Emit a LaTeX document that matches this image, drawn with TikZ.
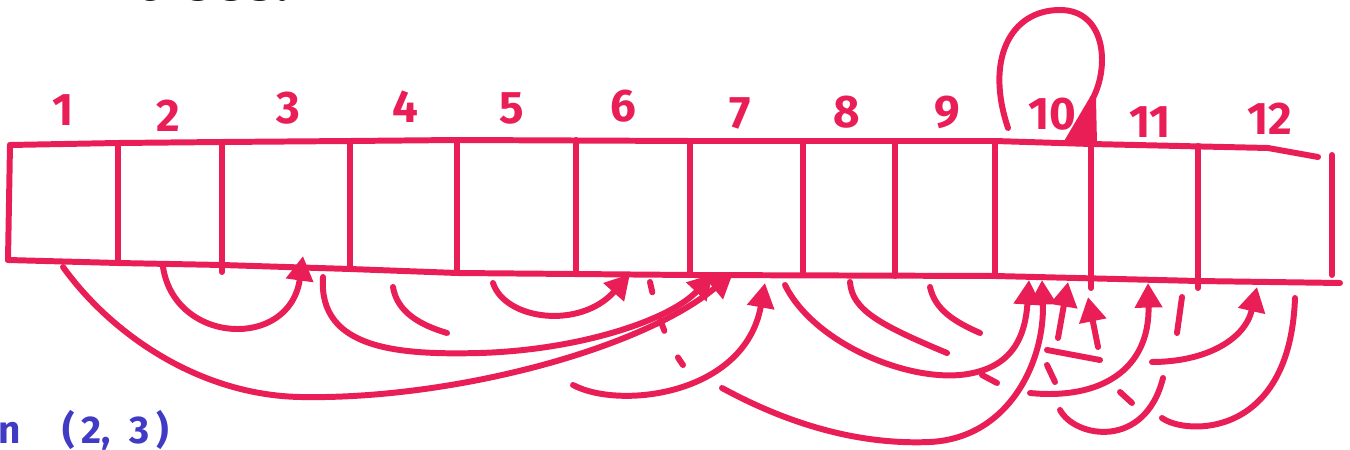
\documentclass[tikz,border=0pt]{standalone}
\usepackage{fontspec}
\setmainfont{Fira Sans}
\usetikzlibrary{arrows.meta}
\definecolor{inkred}{RGB}{234,30,86}
\definecolor{inkblue}{RGB}{64,58,196}
\definecolor{inkblack}{RGB}{22,26,36}

\begin{document}
\begin{tikzpicture}[x=0.02cm,y=0.02cm,
  pen/.style={draw=inkred,line width=3.4pt,line cap=round,line join=round},
  ptr/.style={pen,-{Triangle[length=14pt,width=15pt]}},
  gapline/.style={pen,dash pattern=on 6pt off 17pt},
  num/.style={text=inkred,inner sep=0pt,font=\fontsize{26}{26}\selectfont\bfseries}]
\useasboundingbox (0,0) rectangle (1350,450);
\clip (0,0) rectangle (1350,450);

\node[text=inkblack,anchor=base west,inner sep=0pt,font=\fontsize{34}{34}\selectfont\bfseries] (title) at (135,449) {trees.};
\node[text=inkblue,anchor=base west,inner sep=0pt,font=\fontsize{22}{22}\selectfont\bfseries] (call) at (-2,7) {n\hspace{24pt}(\hspace{3.5pt}2,\hspace{10.5pt}3\hspace{4pt})};

% the array of parents
\draw[pen] (10,305) -- (118,307) -- (222,308) -- (350,309) -- (457,310) -- (690,309) -- (995,309) -- (1091,306) -- (1268,302) -- (1318,293);
\draw[pen] (8,190) -- (118,187) -- (222,185) -- (350,181) -- (457,177) -- (690,175) -- (995,174) -- (1198,169) -- (1340,167);
\draw[pen] (10,305) -- (8,190);
\draw[pen] (1332,295) -- (1332,175);
\foreach \x/\yt/\yb in {118/307/188,222/308/178,350/309/183,457/310/177,576/310/176,690/309/175,803/309/175,895/309/174,995/309/174,1091/306/162,1198/304/162}
  \draw[pen] (\x,\yt) -- (\x,\yb);

\node[num] (n1) at (63,340) {1};
\node[num] (n2) at (168,334) {2};
\node[num] (n3) at (288,342) {3};
\node[num] (n4) at (405,343) {4};
\node[num] (n5) at (512,342) {5};
\node[num] (n6) at (623,344) {6};
\node[num] (n7) at (740,337) {7};
\node[num] (n8) at (847,338) {8};
\node[num] (n9) at (947,338) {9};
\node[num] (n10) at (1052,336) {10};
\node[num] (n11) at (1150,328) {11};
\node[num] (n12) at (1270,331) {12};

\coordinate (from1) at (63,183);
\coordinate (from2) at (163,183);
\coordinate (from3) at (323,173);
\coordinate (from4) at (393,163);
\coordinate (end4) at (447,117);
\coordinate (from5) at (493,167);
\coordinate (from6) at (573,65);
\coordinate (from7) at (785,165);
\coordinate (from8) at (850,168);
\coordinate (end8) at (947,97);
\coordinate (from9) at (930,163);
\coordinate (end9) at (980,117);
\coordinate (fromA) at (722,62);
\coordinate (fromB) at (1058,112);
\coordinate (fromC) at (1098,103);
\coordinate (fromD) at (1030,57);
\coordinate (fromE) at (1152,88);
\coordinate (to3) at (303,194);
\coordinate (to6) at (630,176);
\coordinate (to7a) at (713,176);
\coordinate (to7b) at (733,177);
\coordinate (to7c) at (765,167);
\coordinate (to10a) at (1029,170);
\coordinate (to10b) at (1042,170);
\coordinate (to10c) at (1068,168);
\coordinate (to10d) at (1088,153);
\coordinate (to11) at (1148,167);
\coordinate (to12) at (1257,163);
\coordinate (loop10) at (1008,322);
\coordinate (top10) at (1093,352);

\draw[ptr] (from1) .. controls (112,115) and (200,55) .. (300,53) .. controls (450,50) and (640,100) .. (to7b);
\draw[ptr] (from2) .. controls (175,105) and (290,100) .. (to3);
\draw[ptr] (from3) .. controls (318,100) and (400,95) .. (480,97) .. controls (580,100) and (670,130) .. (to7a);
\draw[pen] (from4) .. controls (397,138) and (420,125) .. (end4);
\draw[ptr] (from5) .. controls (505,130) and (580,120) .. (to6);
\draw[gapline] (650,168) .. controls (656,140) and (665,110) .. (683,85);
\draw[ptr] (from6) .. controls (620,40) and (745,55) .. (to7c);
\draw[ptr] (from7) .. controls (812,110) and (900,70) .. (960,75) .. controls (1010,80) and (1025,110) .. (to10a);
\draw[pen] (from8) .. controls (852,140) and (880,125) .. (end8);
\draw[pen] (from9) .. controls (935,140) and (955,128) .. (end9);
\draw[pen] (982,75) -- (997,67);
\draw[ptr] (fromA) .. controls (790,25) and (860,5) .. (930,8) .. controls (1010,12) and (1045,90) .. (to10b);
\draw[ptr] (fromB) -- (to10c);
\draw[ptr] (fromC) -- (to10d);
\draw[pen] (1047,100) -- (1100,90);
\draw[pen] (1047,85) -- (1055,68);
\draw[ptr] (fromD) .. controls (1100,50) and (1150,80) .. (to11);
\draw[pen] (1182,153) -- (1177,117);
\draw[pen] (1120,58) -- (1132,47);
\draw[pen] (1060,40) .. controls (1075,12) and (1145,0) .. (1163,72);
\draw[ptr] (fromE) .. controls (1205,88) and (1245,110) .. (to12);
\draw[pen] (1162,32) .. controls (1185,15) and (1290,10) .. (1295,152);

\draw[pen] (loop10) .. controls (985,390) and (1010,440) .. (1060,440) .. controls (1105,440) and (1110,385) .. (top10);
\filldraw[pen,fill=inkred] (1067,308) -- (1094,307) -- (top10) -- cycle;

\end{tikzpicture}
\end{document}
